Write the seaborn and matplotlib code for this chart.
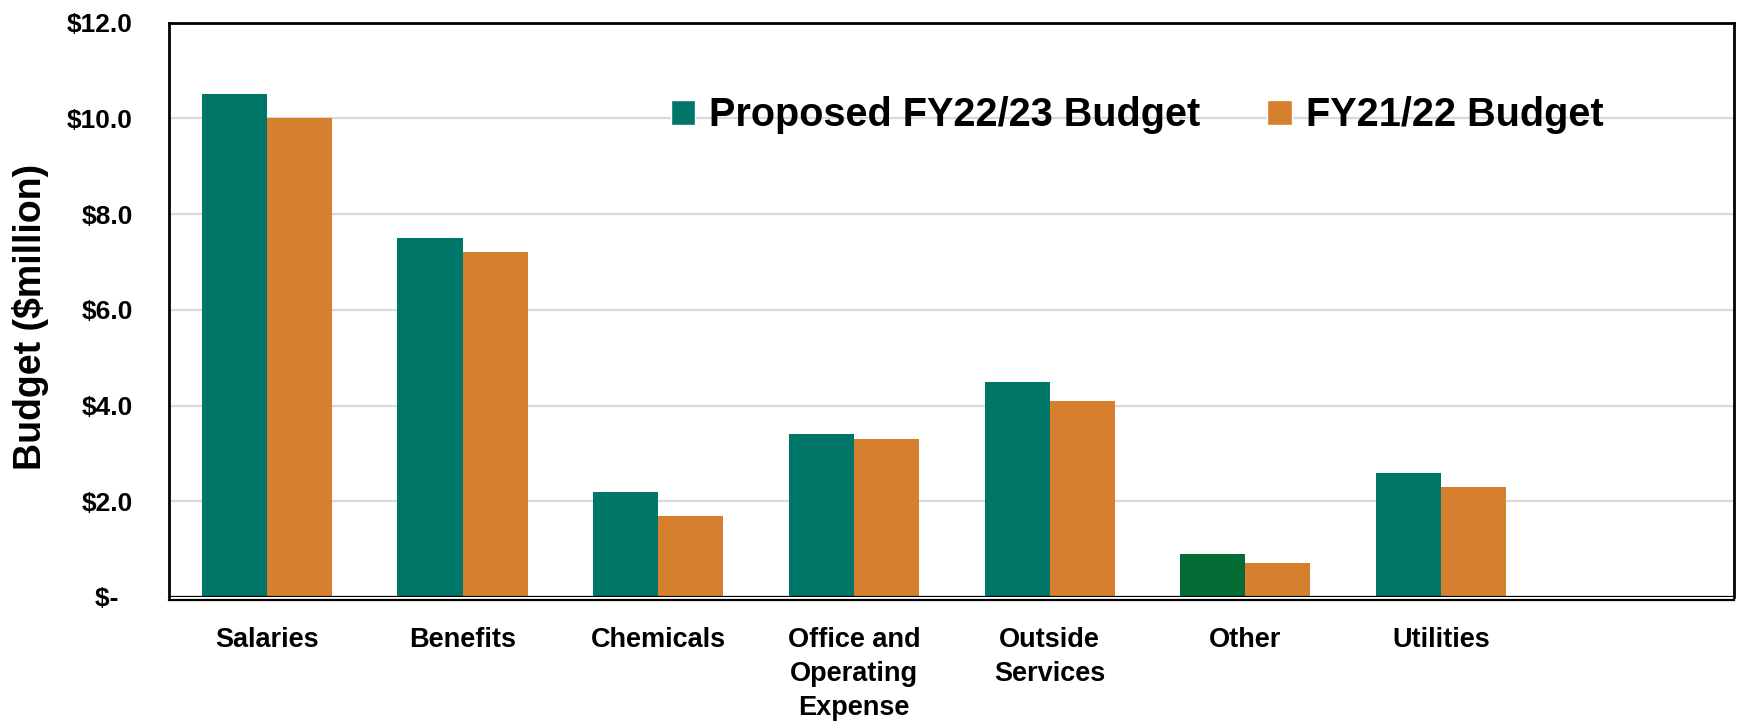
import matplotlib
matplotlib.use("Agg")
import matplotlib.pyplot as plt
from matplotlib.patches import Patch
from matplotlib.ticker import FixedLocator
import seaborn as sns
import pandas as pd
import numpy as np

# ---- data ----
categories = ["Salaries", "Benefits", "Chemicals", "Office and\nOperating\nExpense",
              "Outside\nServices", "Other", "Utilities", ""]
proposed_fy2223 = [10.5, 7.5, 2.2, 3.4, 4.5, 0.9, 2.6, np.nan]
budget_fy2122 = [10.0, 7.2, 1.7, 3.3, 4.1, 0.7, 2.3, np.nan]
series_names = ["Proposed FY22/23 Budget", "FY21/22 Budget"]
y_ticks = [0, 2, 4, 6, 8, 10, 12]
y_tick_labels = ["$-  ", "$2.0", "$4.0", "$6.0", "$8.0", "$10.0", "$12.0"]
highlight_category = "Other"

TEAL = "#007668"
ORANGE = "#D57F2F"
DARK_GREEN = "#036B34"

sns.set_theme(style="white")
plt.rcParams["font.family"] = ["Liberation Sans", "DejaVu Sans"]
plt.rcParams["text.color"] = "black"
plt.rcParams["axes.labelcolor"] = "black"
plt.rcParams["xtick.color"] = "black"
plt.rcParams["ytick.color"] = "black"

df = pd.DataFrame({
    "category": categories * 2,
    "series": [series_names[0]] * len(categories) + [series_names[1]] * len(categories),
    "value": list(proposed_fy2223) + list(budget_fy2122),
})

fig = plt.figure(figsize=(17.4, 7.28), dpi=100)
ax = fig.add_axes([169 / 1740, 1 - 597 / 728, (1734.5 - 169) / 1740, (597 - 22.7) / 728])

sns.barplot(data=df, x="category", y="value", hue="series", order=categories,
            hue_order=series_names, palette=[TEAL, ORANGE], width=0.665, gap=0,
            saturation=1, legend=False, ax=ax, zorder=3, linewidth=0)

# recolor highlighted bar
hi = categories.index(highlight_category)
for p in ax.containers[0]:
    cx = p.get_x() + p.get_width() / 2
    if abs(cx - (hi - 0.665 / 4)) < 0.1:
        p.set_facecolor(DARK_GREEN)

ax.set_xlim(-0.5, len(categories) - 0.5)
ax.set_ylim(0, 12)
ax.set_yticks(y_ticks)
ax.set_yticklabels(y_tick_labels)
ax.set_xlabel("")
ax.set_ylabel("Budget ($million)", fontsize=27, fontweight="bold", color="black")
ax.yaxis.set_label_coords(-0.0767, 0.488)

ax.grid(axis="y", color="#D9D9D9", linewidth=1.6, zorder=0)
ax.set_axisbelow(True)
ax.axhline(0, color="black", linewidth=1.6, zorder=4)

for s in ["top", "left", "right"]:
    ax.spines[s].set_color("black")
    ax.spines[s].set_linewidth(2.0)
ax.spines["bottom"].set_color("black")
ax.spines["bottom"].set_linewidth(1.6)
ax.spines["bottom"].set_position(("outward", 2.5))

ax.tick_params(axis="y", length=0, pad=26, labelsize=19, labelcolor="black")
ax.tick_params(axis="x", which="major", length=0, pad=19, labelsize=19.5, labelcolor="black")
ax.xaxis.set_minor_locator(FixedLocator(np.arange(-0.5, len(categories), 1.0)))
ax.tick_params(axis="x", which="minor", length=7, width=1.5, color="#D0D0D0", direction="out")
for t in ax.get_xticklabels() + ax.get_yticklabels():
    t.set_fontweight("bold")
for t in ax.get_xticklabels():
    t.set_linespacing(1.4)

handles = [Patch(facecolor=TEAL, label=series_names[0]),
           Patch(facecolor=ORANGE, label=series_names[1])]
leg = ax.legend(handles=handles, loc="center", bbox_to_anchor=(1137 / 1740, 1 - 115.5 / 728),
                bbox_transform=fig.transFigure, ncol=2, frameon=False, borderpad=0,
                handlelength=0.62, handleheight=0.62, handletextpad=0.35, columnspacing=1.7,
                prop={"size": 28.5, "weight": "bold"})
for t in leg.get_texts():
    t.set_color("black")

fig.savefig("out.png", dpi=100)
